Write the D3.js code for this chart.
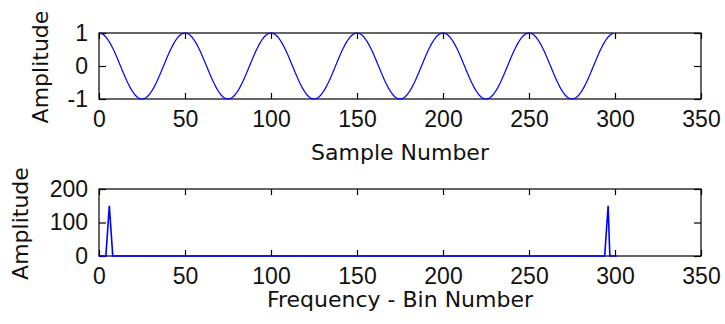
<!DOCTYPE html>
<html>
<head>
<meta charset="utf-8">
<script src="https://cdn.jsdelivr.net/npm/d3@7"></script>
<style>
  body { margin: 0; background: #fff; }
  svg { display: block; }
</style>
</head>
<body>
<svg id="fig" width="725" height="324"></svg>
<script>
// Sampled cosine, 300 samples (6 cycles of 50 samples)
const sampleAmplitude = [
  1,0.99,0.97,0.93,0.88,0.81,0.73,0.64,0.54,0.43,0.31,0.19,0.06,-0.06,-0.19,-0.31,-0.43,-0.54,-0.64,-0.73,-0.81,-0.88,-0.93,-0.97,-0.99,-1,-0.99,-0.97,-0.93,-0.88,-0.81,-0.73,-0.64,-0.54,-0.43,-0.31,-0.19,-0.06,0.06,0.19,0.31,0.43,0.54,0.64,0.73,0.81,0.88,0.93,0.97,0.99,
  1,0.99,0.97,0.93,0.88,0.81,0.73,0.64,0.54,0.43,0.31,0.19,0.06,-0.06,-0.19,-0.31,-0.43,-0.54,-0.64,-0.73,-0.81,-0.88,-0.93,-0.97,-0.99,-1,-0.99,-0.97,-0.93,-0.88,-0.81,-0.73,-0.64,-0.54,-0.43,-0.31,-0.19,-0.06,0.06,0.19,0.31,0.43,0.54,0.64,0.73,0.81,0.88,0.93,0.97,0.99,
  1,0.99,0.97,0.93,0.88,0.81,0.73,0.64,0.54,0.43,0.31,0.19,0.06,-0.06,-0.19,-0.31,-0.43,-0.54,-0.64,-0.73,-0.81,-0.88,-0.93,-0.97,-0.99,-1,-0.99,-0.97,-0.93,-0.88,-0.81,-0.73,-0.64,-0.54,-0.43,-0.31,-0.19,-0.06,0.06,0.19,0.31,0.43,0.54,0.64,0.73,0.81,0.88,0.93,0.97,0.99,
  1,0.99,0.97,0.93,0.88,0.81,0.73,0.64,0.54,0.43,0.31,0.19,0.06,-0.06,-0.19,-0.31,-0.43,-0.54,-0.64,-0.73,-0.81,-0.88,-0.93,-0.97,-0.99,-1,-0.99,-0.97,-0.93,-0.88,-0.81,-0.73,-0.64,-0.54,-0.43,-0.31,-0.19,-0.06,0.06,0.19,0.31,0.43,0.54,0.64,0.73,0.81,0.88,0.93,0.97,0.99,
  1,0.99,0.97,0.93,0.88,0.81,0.73,0.64,0.54,0.43,0.31,0.19,0.06,-0.06,-0.19,-0.31,-0.43,-0.54,-0.64,-0.73,-0.81,-0.88,-0.93,-0.97,-0.99,-1,-0.99,-0.97,-0.93,-0.88,-0.81,-0.73,-0.64,-0.54,-0.43,-0.31,-0.19,-0.06,0.06,0.19,0.31,0.43,0.54,0.64,0.73,0.81,0.88,0.93,0.97,0.99,
  1,0.99,0.97,0.93,0.88,0.81,0.73,0.64,0.54,0.43,0.31,0.19,0.06,-0.06,-0.19,-0.31,-0.43,-0.54,-0.64,-0.73,-0.81,-0.88,-0.93,-0.97,-0.99,-1,-0.99,-0.97,-0.93,-0.88,-0.81,-0.73,-0.64,-0.54,-0.43,-0.31,-0.19,-0.06,0.06,0.19,0.31,0.43,0.54,0.64,0.73,0.81,0.88,0.93,0.97,0.99
];

// Magnitude spectrum: every bin is zero except these [bin, magnitude] pairs
const spectrumBinCount = 302;
const spectrumPeaks = [[5, 75], [6, 150], [7, 75], [295, 75], [296, 150]];

// Axis ticks
const xTickValues = [0, 50, 100, 150, 200, 250, 300, 350];
const timeYTicks = [-1, 0, 1];
const freqYTicks = [0, 100, 200];

const xDomain = [0, 350];
const timeYDomain = [-1, 1];
const freqYDomain = [0, 200];

const timeXLabel = "Sample Number";
const freqXLabel = "Frequency - Bin Number";
const yLabelText = "Amplitude";

// ---- build series ----
const timeSeries = sampleAmplitude.map((v, i) => [i, v]);
const peakMap = new Map(spectrumPeaks);
const freqSeries = d3.range(spectrumBinCount).map(k => [k, peakMap.get(k) || 0]);

const svg = d3.select("#fig");
const TICK_FONT = "'Liberation Sans', Arial, sans-serif";
const LABEL_FONT = "'DejaVu Sans', sans-serif";
const LINE_BLUE = "#0000ff";
const plainNumber = d => String(d);

function drawPanel(opts) {
  const { left, right, top, bottom, yDomain, yTicks, series, strokeW, xLabel, xLabelY, yLabelX } = opts;
  const x = d3.scaleLinear().domain(xDomain).range([left, right]);
  const y = d3.scaleLinear().domain(yDomain).range([bottom, top]);
  const g = svg.append("g");
  const lineGen = d3.line().x(d => x(d[0])).y(d => y(d[1]));

  // bottom axis with labels, ticks pointing inward
  const axB = g.append("g").attr("transform", `translate(0,${bottom})`)
    .call(d3.axisBottom(x).tickValues(xTickValues).tickFormat(plainNumber)
      .tickSizeInner(-6).tickSizeOuter(0).tickPadding(12));
  // top axis: ticks only
  const axT = g.append("g").attr("transform", `translate(0,${top})`)
    .call(d3.axisTop(x).tickValues(xTickValues).tickSizeInner(-6).tickSizeOuter(0).tickFormat(""));
  // left axis with labels
  const axL = g.append("g").attr("transform", `translate(${left},0)`)
    .call(d3.axisLeft(y).tickValues(yTicks).tickFormat(plainNumber)
      .tickSizeInner(-7).tickSizeOuter(0).tickPadding(11));
  // right axis: ticks only
  const axR = g.append("g").attr("transform", `translate(${right},0)`)
    .call(d3.axisRight(y).tickValues(yTicks).tickSizeInner(-7).tickSizeOuter(0).tickFormat(""));

  [axB, axT, axL, axR].forEach(a => {
    a.attr("font-family", null).attr("font-size", null);
    a.select(".domain").remove();
    a.selectAll(".tick line").attr("stroke", "#000").attr("stroke-width", 1.2);
    a.selectAll(".tick text")
      .style("font-family", TICK_FONT)
      .style("font-size", "23px")
      .attr("fill", "#111");
  });

  // axes box
  g.append("rect")
    .attr("x", left).attr("y", top)
    .attr("width", right - left).attr("height", bottom - top)
    .attr("fill", "none").attr("stroke", "#000").attr("stroke-width", 1.2);

  // data line, drawn over the frame so the zero level stays blue
  g.append("path")
    .datum(series)
    .attr("fill", "none")
    .attr("stroke", LINE_BLUE)
    .attr("stroke-width", strokeW)
    .attr("d", lineGen);

  // x label
  g.append("text")
    .attr("x", (left + right) / 2).attr("y", xLabelY)
    .attr("text-anchor", "middle")
    .style("font-family", LABEL_FONT).style("font-size", "22px").attr("fill", "#111")
    .text(xLabel);

  // y label
  g.append("text")
    .attr("transform", `translate(${yLabelX},${(top + bottom) / 2 + 1}) rotate(-90)`)
    .attr("text-anchor", "middle")
    .style("font-family", LABEL_FONT).style("font-size", "22px").attr("fill", "#111")
    .text(yLabelText);
}

drawPanel({
  left: 99, right: 701, top: 33, bottom: 99,
  yDomain: timeYDomain, yTicks: timeYTicks,
  series: timeSeries, strokeW: 1.2,
  xLabel: timeXLabel, xLabelY: 160, yLabelX: 48
});

drawPanel({
  left: 99, right: 701, top: 189, bottom: 256,
  yDomain: freqYDomain, yTicks: freqYTicks,
  series: freqSeries, strokeW: 1.6,
  xLabel: freqXLabel, xLabelY: 307, yLabelX: 28
});
</script>
</body>
</html>
